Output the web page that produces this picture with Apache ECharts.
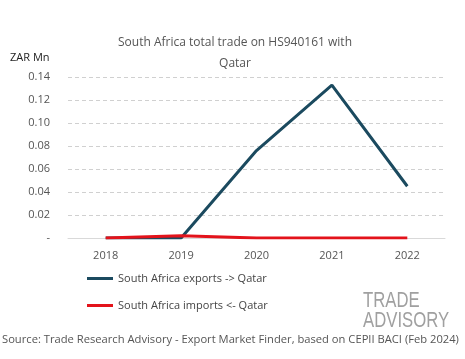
<!DOCTYPE html>
<html><head><meta charset="utf-8">
<script src="https://cdn.jsdelivr.net/npm/echarts@6/dist/echarts.min.js"></script>
<style>html,body{margin:0;padding:0;background:#fff}#c{width:465px;height:359px}</style>
</head><body><div id="c"></div>
<script>
const years = ['2018','2019','2020','2021','2022'];
const exportsQatar = [0, 0, 0.076, 0.133, 0.045];
const importsQatar = [0, 0.002, 0, 0, 0];
const FONT = 'Open Sans';
const chart = echarts.init(document.getElementById('c'));
chart.setOption({
  animation: false,
  title: {
    text: 'South Africa total trade on HS940161 with\nQatar',
    left: 230, top: 27, textAlign: 'center',
    textStyle: {fontFamily: FONT, fontSize: 12, fontWeight: 'normal', color: '#555', lineHeight: 21}
  },
  legend: {
    orient: 'vertical', left: 82, top: 268, itemGap: 16,
    itemWidth: 26, itemHeight: 3, icon: 'rect',
    textStyle: {fontFamily: FONT, fontSize: 11, color: '#444'},
    data: ['South Africa exports -> Qatar', 'South Africa imports <- Qatar']
  },
  grid: {left: 68, right: 20, top: 77, bottom: 121, containLabel: false},
  xAxis: {
    type: 'category', data: years, boundaryGap: true,
    axisLine: {lineStyle: {color: '#d9d9d9'}}, axisTick: {show: false},
    axisLabel: {fontFamily: FONT, fontSize: 11, color: '#555', margin: 12}
  },
  yAxis: {
    type: 'value', min: 0, max: 0.14, interval: 0.02,
    axisLine: {show: false}, axisTick: {show: false},
    splitLine: {lineStyle: {type: [4, 3], color: '#d0d0d0'}},
    axisLabel: {fontFamily: FONT, fontSize: 11, color: '#555', margin: 18,
      formatter: v => (Math.abs(v) < 1e-9 ? '-' : v.toFixed(2))}
  },
  graphic: [
    {type: 'text', left: 10, top: 52, style: {text: 'ZAR Mn', font: '11px "Open Sans"', fill: '#222'}},
    {type: 'text', left: 2, top: 334, style: {text: 'Source: Trade Research Advisory - Export Market Finder, based on CEPII BACI (Feb 2024)', font: '11.2px "Open Sans"', fill: '#555'}},
    {type: 'text', x: 363, y: 290, scaleX: 0.76, style: {text: 'TRADE', font: '22px "Liberation Sans"', fill: '#a0a0a0'}},
    {type: 'text', x: 363, y: 310, scaleX: 0.76, style: {text: 'ADVISORY', font: '22px "Liberation Sans"', fill: '#a0a0a0'}}
  ],
  series: [
    {name: 'South Africa exports -> Qatar', type: 'line', data: exportsQatar, symbol: 'none',
      itemStyle: {color: '#1b4a5f'}, lineStyle: {width: 3, color: '#1b4a5f'}, z: 2},
    {name: 'South Africa imports <- Qatar', type: 'line', data: importsQatar, symbol: 'none',
      itemStyle: {color: '#e3131b'}, lineStyle: {width: 3, color: '#e3131b'}, z: 3}
  ]
});
</script></body></html>
